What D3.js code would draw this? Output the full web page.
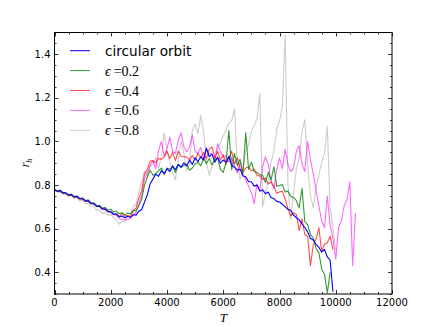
<!DOCTYPE html>
<html>
<head>
<meta charset="utf-8">
<script src="https://cdn.jsdelivr.net/npm/d3@7"></script>
<style>
  body { margin: 0; background: #fff; }
  svg { display: block; }
  .tick-label { font-family: "DejaVu Sans", sans-serif; font-size: 10px; fill: #000; }
</style>
</head>
<body>
<svg id="chart" width="436" height="327"></svg>
<script>
// sampling step of every series (T units)
const STEP = 100;

const legendLabels = ["circular orbit", "0.2", "0.4", "0.6", "0.8"];
const xTicks = [0, 2000, 4000, 6000, 8000, 10000, 12000];
const yTicks = [0.4, 0.6, 0.8, 1.0, 1.2, 1.4];

// r_h values, one every STEP from T = 0
const circular = [
  0.780,0.772,0.776,0.765,0.764,0.754,0.758,0.746,0.749,0.738,
  0.737,0.726,0.729,0.715,0.714,0.702,0.704,0.690,0.690,0.678,
  0.678,0.666,0.668,0.654,0.658,0.650,0.657,0.652,0.664,0.662,
  0.680,0.688,0.722,0.755,0.805,0.828,0.850,0.840,0.866,0.852,
  0.875,0.862,0.888,0.870,0.895,0.882,0.902,0.888,0.915,0.895,
  0.925,0.908,0.930,0.915,0.970,0.930,0.942,0.905,0.928,0.900,
  0.915,0.905,0.932,0.890,0.882,0.868,0.872,0.842,0.838,0.815,
  0.815,0.795,0.800,0.772,0.778,0.760,0.768,0.742,0.738,0.725,
  0.722,0.712,0.700,0.688,0.684,0.662,0.650,0.640,0.622,0.605,
  0.585,0.555,0.548,0.528,0.515,0.492,0.505,0.470,0.455,0.310
];
const eps02 = [
  0.778,0.770,0.773,0.763,0.762,0.754,0.755,0.745,0.748,0.737,
  0.741,0.729,0.732,0.719,0.719,0.705,0.706,0.694,0.697,0.684,
  0.689,0.676,0.680,0.668,0.673,0.662,0.671,0.668,0.684,0.682,
  0.705,0.735,0.800,0.835,0.868,0.845,0.852,0.865,0.878,0.848,
  0.878,0.872,0.884,0.858,0.893,0.880,0.890,0.895,0.868,0.878,
  0.898,0.905,0.888,0.925,0.898,0.922,0.892,0.918,0.925,0.872,
  0.858,0.905,1.050,0.870,0.945,0.890,0.918,0.852,1.040,0.872,
  0.905,0.862,0.858,0.848,0.845,0.812,0.858,0.822,0.885,0.795,
  0.798,0.802,0.768,0.772,0.748,0.742,0.728,0.695,0.785,0.632,
  0.618,0.572,0.558,0.510,0.490,0.415,0.390,0.305,0.400
];
const eps04 = [
  0.778,0.771,0.770,0.763,0.762,0.752,0.753,0.745,0.744,0.735,
  0.738,0.725,0.725,0.715,0.713,0.702,0.701,0.689,0.689,0.677,
  0.676,0.665,0.666,0.656,0.669,0.658,0.660,0.655,0.680,0.695,
  0.740,0.772,0.850,0.872,0.910,0.912,0.902,0.922,0.918,0.928,
  0.955,0.922,0.950,0.912,0.955,0.932,0.930,0.928,0.915,0.935,
  0.915,0.945,0.925,0.950,0.920,0.965,0.975,0.925,0.955,0.915,
  0.940,0.895,0.925,0.955,0.895,0.925,0.872,0.860,0.878,0.882,
  0.865,0.872,0.845,0.842,0.825,0.832,0.805,0.815,0.795,0.762,
  0.768,0.772,0.735,0.692,0.658,0.672,0.665,0.592,0.645,0.572,
  0.565,0.430,0.525,0.552,0.605,0.495,0.528,0.535,0.565,0.505
];
const eps06 = [
  0.776,0.770,0.772,0.762,0.764,0.753,0.755,0.743,0.747,0.735,
  0.735,0.725,0.725,0.713,0.715,0.702,0.703,0.692,0.694,0.679,
  0.678,0.664,0.662,0.646,0.642,0.640,0.643,0.646,0.664,0.675,
  0.715,0.752,0.828,0.852,0.890,0.912,0.875,0.958,1.000,0.932,
  0.968,1.020,0.955,0.945,1.005,1.040,0.975,0.952,0.975,1.030,
  0.955,0.945,0.972,0.925,0.965,0.945,0.942,0.915,0.990,0.955,
  0.925,0.935,0.905,0.925,0.885,0.855,0.905,0.845,0.825,0.795,
  0.765,0.715,0.805,0.775,0.885,0.930,0.895,0.815,0.785,0.870,
  0.925,0.875,0.965,0.895,0.862,0.878,0.955,0.980,0.895,0.862,
  1.000,0.915,0.852,0.775,0.705,0.635,0.605,0.750,0.615,0.555,
  0.460,0.605,0.635,0.705,0.735,0.815,0.430,0.670
];
const eps08 = [
  0.775,0.768,0.768,0.758,0.760,0.746,0.752,0.738,0.742,0.726,
  0.730,0.714,0.716,0.700,0.704,0.684,0.686,0.668,0.675,0.660,
  0.665,0.650,0.642,0.620,0.634,0.632,0.655,0.662,0.705,0.712,
  0.765,0.815,0.865,0.845,0.885,0.895,0.925,0.875,0.935,1.040,
  0.955,0.905,0.855,0.825,0.915,1.000,0.945,0.865,0.895,1.050,
  1.080,1.035,1.120,1.045,0.905,0.845,0.885,0.915,0.965,0.995,
  1.025,1.055,1.085,1.095,1.150,0.895,0.825,0.875,0.955,0.985,
  1.045,1.075,1.105,1.220,0.700,0.765,0.815,0.905,0.955,1.055,
  1.095,1.160,1.490,0.800,0.640,0.765,0.875,0.925,1.045,1.100,
  0.895,0.755,0.695,0.785,0.845,0.905,0.945,1.070,0.695,0.605,
  0.500
];

const series = [
  { values: eps08,    color: "#808080", opacity: 0.4 },
  { values: eps06,    color: "#ff00ff", opacity: 0.6 },
  { values: eps04,    color: "#ff0000", opacity: 0.7 },
  { values: eps02,    color: "#008000", opacity: 0.8 },
  { values: circular, color: "#0000ff", opacity: 1.0 }
];

const svg = d3.select("#chart");
const margin = { left: 54.5, right: 392, top: 32.5, bottom: 294 };

const xScale = d3.scaleLinear().domain([0, 12000]).range([margin.left, margin.right]);
const yScale = d3.scaleLinear().domain([0.3, 1.5]).range([margin.bottom, margin.top]);

svg.append("clipPath").attr("id", "plot-clip")
  .append("rect")
  .attr("x", margin.left).attr("y", margin.top)
  .attr("width", margin.right - margin.left)
  .attr("height", margin.bottom - margin.top);

const line = d3.line()
  .x((d, i) => xScale(i * STEP))
  .y(d => yScale(d));

const lines = svg.append("g").attr("clip-path", "url(#plot-clip)");
series.forEach(s => {
  lines.append("path")
    .datum(s.values)
    .attr("fill", "none")
    .attr("stroke", s.color)
    .attr("stroke-opacity", s.opacity)
    .attr("stroke-width", 1.1)
    .attr("stroke-linejoin", "round")
    .attr("d", line);
});

// inward ticks on all four sides, major + minor
const ticks = svg.append("g").attr("stroke", "#000").attr("stroke-width", 0.8);
const xMinor = d3.range(0, 12001, 500);
const yMinor = d3.range(0.3, 1.5001, 0.05);
xMinor.forEach(t => {
  const len = t % 2000 === 0 ? 4 : 2;
  const x = Math.round(xScale(t)) + 0.5;
  ticks.append("line").attr("x1", x).attr("x2", x).attr("y1", margin.bottom).attr("y2", margin.bottom - len);
  ticks.append("line").attr("x1", x).attr("x2", x).attr("y1", margin.top).attr("y2", margin.top + len);
});
yMinor.forEach(v => {
  const major = yTicks.some(t => Math.abs(t - v) < 1e-6);
  const len = major ? 4 : 2;
  const y = Math.round(yScale(v)) + 0.5;
  ticks.append("line").attr("y1", y).attr("y2", y).attr("x1", margin.left).attr("x2", margin.left + len);
  ticks.append("line").attr("y1", y).attr("y2", y).attr("x1", margin.right).attr("x2", margin.right - len);
});

// frame
svg.append("rect")
  .attr("x", margin.left).attr("y", margin.top)
  .attr("width", margin.right - margin.left)
  .attr("height", margin.bottom - margin.top)
  .attr("fill", "none")
  .attr("stroke", "#000")
  .attr("stroke-width", 1);

// tick labels
svg.append("g").selectAll("text").data(xTicks).enter().append("text")
  .attr("class", "tick-label")
  .attr("x", d => xScale(d))
  .attr("y", margin.bottom + 12)
  .attr("text-anchor", "middle")
  .text(d => d);

svg.append("g").selectAll("text").data(yTicks).enter().append("text")
  .attr("class", "tick-label")
  .attr("x", margin.left - 4)
  .attr("y", d => yScale(d) + 3.6)
  .attr("text-anchor", "end")
  .text(d => d.toFixed(1));

// axis labels
svg.append("text")
  .attr("x", (margin.left + margin.right) / 2)
  .attr("y", 322)
  .attr("text-anchor", "middle")
  .attr("font-family", "Liberation Serif, serif")
  .attr("font-style", "italic")
  .attr("font-size", 13)
  .text("T");

const yLabel = svg.append("text")
  .attr("transform", "translate(29,163) rotate(-90)")
  .attr("text-anchor", "middle")
  .attr("font-family", "Liberation Serif, serif")
  .attr("font-size", 12);
yLabel.append("tspan").attr("font-style", "italic").text("r");
yLabel.append("tspan").attr("font-size", 8).attr("dy", 3).attr("font-style", "italic").text("h");

// legend
const legend = svg.append("g");
const legendColors = series.slice().reverse();
legendLabels.forEach((label, i) => {
  const y = 50.7 + i * 19.9;
  const s = legendColors[i];
  legend.append("line")
    .attr("x1", 70).attr("x2", 90)
    .attr("y1", y).attr("y2", y)
    .attr("stroke", s.color)
    .attr("stroke-opacity", s.opacity)
    .attr("stroke-width", 1);
  if (i === 0) {
    legend.append("text")
      .attr("x", 105).attr("y", y + 5)
      .attr("font-family", "DejaVu Sans, sans-serif")
      .attr("font-size", 13.6)
      .text(label);
  } else {
    const t = legend.append("text")
      .attr("x", 105).attr("y", y + 5)
      .attr("font-family", "Liberation Serif, serif")
      .attr("font-size", 14);
    t.append("tspan").attr("font-style", "italic").text("ϵ");
    t.append("tspan").attr("dx", 3).text("=" + label);
  }
});
</script>
</body>
</html>
